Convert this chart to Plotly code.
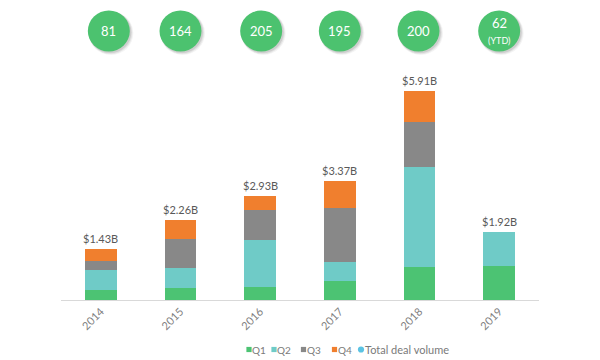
import plotly.graph_objects as go

# ---------------- data ----------------
years = ["2014", "2015", "2016", "2017", "2018", "2019"]
q1 = [0.28, 0.33, 0.375, 0.53, 0.92, 0.96]
q2 = [0.565, 0.565, 1.32, 0.555, 2.84, 0.96]
q3 = [0.25, 0.83, 0.85, 1.525, 1.27, 0.0]
q4 = [0.335, 0.535, 0.385, 0.76, 0.88, 0.0]
total_labels = ["$1.43B", "$2.26B", "$2.93B", "$3.37B", "$5.91B", "$1.92B"]
deal_counts = ["81", "164", "205", "195", "200", "62"]
deal_notes = ["", "", "", "", "", "(YTD)"]
series_names = ["Q1", "Q2", "Q3", "Q4"]
legend_labels = ["Q1", "Q2", "Q3", "Q4", "Total deal volume"]

# ---------------- style ----------------
FONT = "Lato, 'Open Sans', Arial, sans-serif"
C_Q1 = "#4cc373"
C_Q2 = "#6fcbc7"
C_Q3 = "#888888"
C_Q4 = "#f07f2e"
C_TOTAL = "#5bc3e3"
C_CIRCLE = "#4cc26f"
TXT = "#595959"

OFF = 8                      # page body margin of the browser
W, H = 600 - OFF, 360 - OFF
ML, MT = 61 - OFF, 80 - OFF
PW, PH = 478, 220
MR = W - ML - PW
MB = H - MT - PH
PX_PER_B = 35.4


def wx(px):   # window x pixel -> paper x
    return (px - OFF - ML) / PW


def wy(py):   # window y pixel -> paper y
    return (MT + PH - (py - OFF)) / PH


fig = go.Figure()
for name, vals, col in zip(series_names, [q1, q2, q3, q4], [C_Q1, C_Q2, C_Q3, C_Q4]):
    fig.add_trace(go.Bar(x=years, y=vals, name=name, marker=dict(color=col, line=dict(width=0)),
                         showlegend=False, hoverinfo="y+name"))

totals = [a + b + c + d for a, b, c, d in zip(q1, q2, q3, q4)]

annotations = []
shapes = []
for i, (tot, lab) in enumerate(zip(totals, total_labels)):
    annotations.append(dict(x=i, y=tot, xref="x", yref="y", text=lab, showarrow=False,
                            xanchor="center", yanchor="bottom", yshift=2,
                            font=dict(family=FONT, size=11, color=TXT)))

# deal-count circles above the chart
cy = wy(31)
nudges = [8, 0, 1, 0, -1, 0]
for i, (cnt, note) in enumerate(zip(deal_counts, deal_notes)):
    nx = nudges[i]
    for k, op in [(3.5, 0.08), (2.5, 0.12), (1.5, 0.18)]:
        shapes.append(dict(type="circle", xref="x", yref="paper", xsizemode="pixel", ysizemode="pixel",
                           xanchor=i, yanchor=cy, x0=nx - 21 + 1, x1=nx + 21 + k,
                           y0=-20.5 - k, y1=20.5 - 1,
                           fillcolor=f"rgba(110,110,110,{op})", line=dict(width=0), layer="above"))
    shapes.append(dict(type="circle", xref="x", yref="paper", xsizemode="pixel", ysizemode="pixel",
                       xanchor=i, yanchor=cy, x0=nx - 21, x1=nx + 21, y0=-20.5, y1=20.5,
                       fillcolor=C_CIRCLE, line=dict(width=0), layer="above"))
    if note:
        annotations.append(dict(x=i, y=cy, xref="x", yref="paper", xshift=nx, yshift=8,
                                xanchor="center", yanchor="middle",
                                text=cnt, showarrow=False,
                                font=dict(family=FONT, size=13, color="white")))
        annotations.append(dict(x=i, y=cy, xref="x", yref="paper", xshift=nx, yshift=-9,
                                xanchor="center", yanchor="middle",
                                text=note, showarrow=False,
                                font=dict(family=FONT, size=9, color="white")))
    else:
        annotations.append(dict(x=i, y=cy, xref="x", yref="paper", xshift=nx,
                                xanchor="center", yanchor="middle",
                                text=cnt, showarrow=False,
                                font=dict(family=FONT, size=13, color="white")))

# compact legend (drawn by hand to match the tight spacing)
ly = wy(349.5)
legend_colors = [C_Q1, C_Q2, C_Q3, C_Q4, C_TOTAL]
legend_kinds = ["rect", "rect", "rect", "rect", "circle"]
legend_sym_x = [249.0, 274.0, 303.5, 334.5, 361.0]
legend_txt_x = [250.0, 275.0, 304.5, 335.5, 362.5]
legend_size = [10, 10, 10, 10, 11]
for lab, col, kind, sx, tx, fs in zip(legend_labels, legend_colors, legend_kinds, legend_sym_x,
                                      legend_txt_x, legend_size):
    s = 2.6 if kind == "rect" else 3.1
    shapes.append(dict(type=kind, xref="paper", yref="paper",
                       xsizemode="pixel", ysizemode="pixel", xanchor=wx(sx), yanchor=ly,
                       x0=-s, x1=s, y0=-s, y1=s, fillcolor=col, line=dict(width=0)))
    annotations.append(dict(x=wx(tx), y=ly, xref="paper", yref="paper", xanchor="left",
                            yanchor="middle",
                            text=lab, showarrow=False, font=dict(family=FONT, size=fs, color="#7a7a7a")))

fig.update_layout(
    barmode="stack",
    bargap=0.6,
    width=W, height=H,
    margin=dict(l=ML, r=MR, t=MT, b=MB),
    paper_bgcolor="white", plot_bgcolor="white",
    font=dict(family=FONT, color=TXT),
    xaxis=dict(type="category", showline=True, linecolor="#d9d9d9", linewidth=1,
               tickangle=-45, ticks="", tickfont=dict(family=FONT, size=11, color="#7f7f7f"),
               showgrid=False, zeroline=False, range=[-0.5, 5.5]),
    yaxis=dict(visible=False, range=[0, PH / PX_PER_B], showgrid=False, zeroline=False),
    showlegend=False,
    annotations=annotations,
    shapes=shapes,
)

fig.write_html("out.html")
